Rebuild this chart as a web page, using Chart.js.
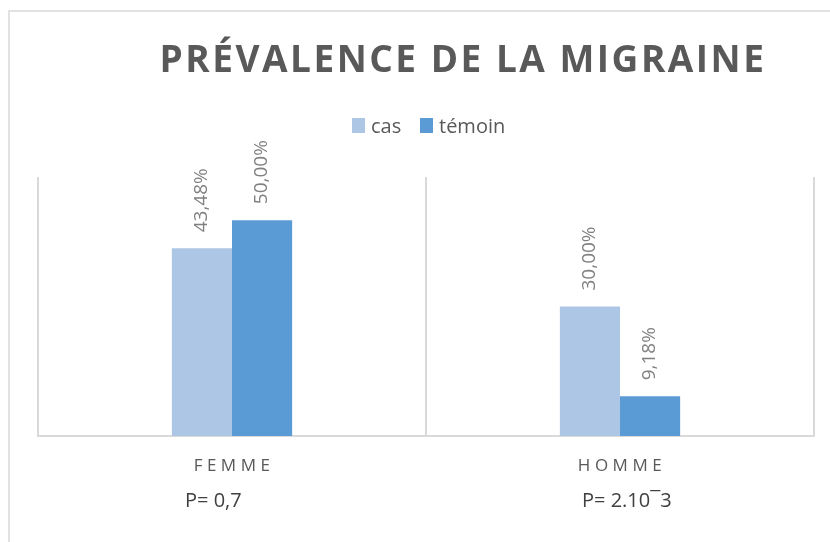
<!DOCTYPE html>
<html lang="fr">
<head>
<meta charset="utf-8">
<title>Prévalence de la migraine</title>
<script src="https://cdn.jsdelivr.net/npm/chart.js@4"></script>
<style>
  html, body { margin: 0; padding: 0; background: #fff; }
  #wrap { width: 830px; height: 542px; position: relative; }
</style>
</head>
<body>
<div id="wrap"><canvas id="chart" width="830" height="542"></canvas></div>
<script>
/* ── Data ── */
const categories = ['FEMME', 'HOMME'];
const casValues = [43.48, 30.00];
const temoinValues = [50.00, 9.18];
const pValues = ['P= 0,7', 'P= 2.10\u00AF3'];
const seriesNames = ['cas', 'témoin'];

const TEXT = '#595959';
const GRID = '#d9d9d9';
const COLORS = ['#aec6e6', '#5b9bd5'];
const FONT = "'Open Sans', 'Liberation Sans', sans-serif";

const fmt = v => v.toFixed(2).replace('.', ',') + '%';

/* ── Extras drawn on top: frame, title, legend, labels ── */
const decor = {
  id: 'decor',
  beforeDraw(chart) {
    const ctx = chart.ctx;
    ctx.save();
    ctx.strokeStyle = GRID;
    ctx.lineWidth = 1.5;
    ctx.beginPath();
    ctx.moveTo(9, 542); ctx.lineTo(9, 11); ctx.lineTo(830, 11);
    ctx.stroke();
    ctx.restore();
  },
  afterDraw(chart) {
    const ctx = chart.ctx;
    const x = chart.scales.x;
    ctx.save();

    // title
    ctx.fillStyle = TEXT;
    ctx.font = `bold 37px ${FONT}`;
    ctx.letterSpacing = '2.5px';
    ctx.textAlign = 'center';
    ctx.textBaseline = 'alphabetic';
    ctx.fillText('PRÉVALENCE DE LA MIGRAINE', 463, 72);

    // legend
    ctx.letterSpacing = '0px';
    ctx.font = `20px ${FONT}`;
    ctx.textAlign = 'left';
    const boxX = [352, 420];
    seriesNames.forEach((name, i) => {
      ctx.fillStyle = COLORS[i];
      ctx.fillRect(boxX[i], 118, 13, 15);
      ctx.fillStyle = TEXT;
      ctx.fillText(name, boxX[i] + 19, 133);
    });

    // category labels + p values
    categories.forEach((c, i) => {
      const cx = x.getPixelForValue(i);
      ctx.font = `17px ${FONT}`;
      ctx.letterSpacing = '4.5px';
      ctx.textAlign = 'center';
      ctx.fillStyle = TEXT;
      ctx.fillText(c, cx + 2, 471);
      ctx.letterSpacing = '0px';
      ctx.font = `20px ${FONT}`;
      ctx.fillStyle = '#404040';
      ctx.textAlign = 'left';
      ctx.fillText(pValues[i], cx + (i === 0 ? -47 : -38), 507);
    });

    // rotated value labels above bars
    ctx.font = `19px ${FONT}`;
    ctx.fillStyle = '#808080';
    ctx.textAlign = 'left';
    ctx.textBaseline = 'middle';
    chart.data.datasets.forEach((ds, di) => {
      chart.getDatasetMeta(di).data.forEach((bar, i) => {
        ctx.save();
        ctx.translate(bar.x, bar.y - 16);
        ctx.rotate(-Math.PI / 2);
        ctx.fillText(fmt(ds.data[i]), 0, 0);
        ctx.restore();
      });
    });
    ctx.restore();
  }
};

new Chart(document.getElementById('chart'), {
  type: 'bar',
  data: {
    labels: categories,
    datasets: [
      { label: seriesNames[0], data: casValues, backgroundColor: COLORS[0], borderWidth: 0 },
      { label: seriesNames[1], data: temoinValues, backgroundColor: COLORS[1], borderWidth: 0 }
    ]
  },
  options: {
    responsive: false,
    animation: false,
    categoryPercentage: 0.31,
    barPercentage: 1.0,
    layout: { padding: { left: 38, right: 16, top: 177, bottom: 106 } },
    plugins: { legend: { display: false }, title: { display: false }, tooltip: { enabled: false } },
    scales: {
      x: {
        grid: { color: GRID, lineWidth: 2, drawTicks: false, offset: true },
        border: { color: GRID, width: 2 },
        ticks: { display: false },
        afterFit: s => { s.height = 0; }
      },
      y: { display: false, min: 0, max: 60 }
    }
  },
  plugins: [decor]
});
</script>
</body>
</html>
